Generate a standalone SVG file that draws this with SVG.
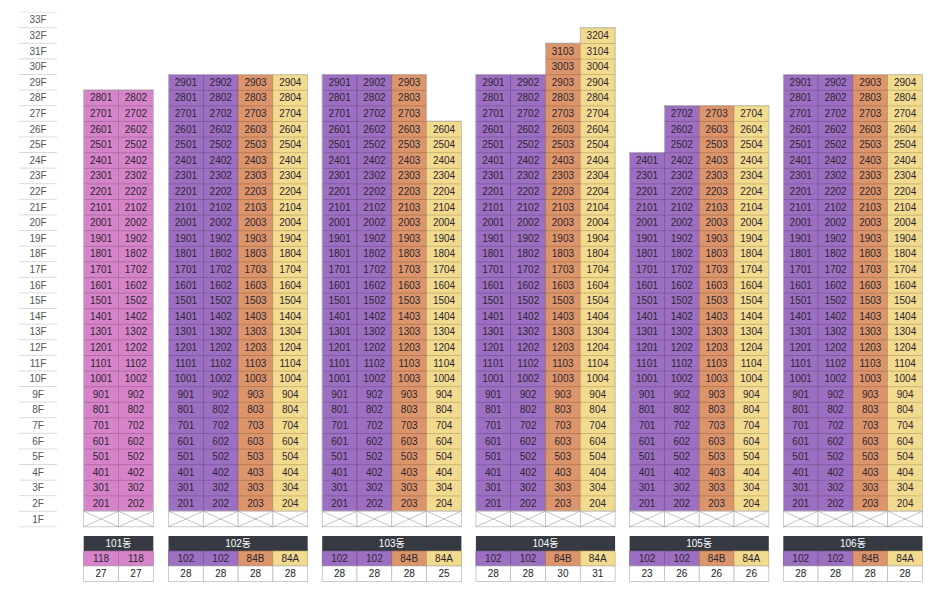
<svg xmlns="http://www.w3.org/2000/svg" xmlns:xlink="http://www.w3.org/1999/xlink" width="943" height="595" viewBox="0 0 943 595">
<defs>
<style>
.pk{fill:#d783c9;stroke:#9c6a93;stroke-width:.6}
.pu{fill:#9d6fc2;stroke:#6f4f8c;stroke-width:.6}
.or{fill:#dc956a;stroke:#a06a4c;stroke-width:.6}
.ye{fill:#f2db8e;stroke:#b7a266;stroke-width:.6}
.hl{fill:url(#hl)}
.n text{font-family:"Liberation Sans",sans-serif;font-size:10px;fill:#2c2631;text-anchor:middle}
.f text{font-family:"Liberation Sans",sans-serif;font-size:10px;fill:#555;text-anchor:middle}
.hd{fill:#373a42}
.ht{font-family:"Liberation Sans","Noto Sans CJK KR",sans-serif;font-size:10px;fill:#fff;text-anchor:middle}
.tt{font-family:"Liberation Sans",sans-serif;font-size:10px;fill:#2c2631;text-anchor:middle}
.ct{font-family:"Liberation Sans",sans-serif;font-size:10px;fill:#222;text-anchor:middle}
.wc{fill:#fff;stroke:#b5b5b5;stroke-width:.7}
.ol{fill:none;stroke:#c8c8c8;stroke-width:.8}
</style>
<pattern id="hl" patternUnits="userSpaceOnUse" x="0" y="11.8" width="10" height="15.6"><rect x="0" y="0" width="10" height="0.6" fill="#000" fill-opacity=".28"/></pattern>
<pattern id="fl" patternUnits="userSpaceOnUse" x="0" y="11.6" width="10" height="15.6"><rect x="0" y="0" width="10" height="0.8" fill="#d2d2d2"/></pattern>
<g id="xc"><rect class="wc" x="0" y="0" width="34.8" height="15.6"/><path d="M0 0L34.8 15.6M0 15.6L34.8 0" stroke="#9a9a9a" stroke-width=".6" fill="none"/></g>
</defs>
<rect width="943" height="595" fill="#fff"/>

<g id="floors" class="f">
<rect x="19" y="11.6" width="38" height="516" fill="url(#fl)"/>
<g transform="translate(38,0)">
<text y="23.4">33F</text><text y="39">32F</text><text y="54.6">31F</text><text y="70.2">30F</text><text y="85.8">29F</text><text y="101.4">28F</text><text y="117">27F</text><text y="132.6">26F</text><text y="148.2">25F</text><text y="163.8">24F</text><text y="179.4">23F</text><text y="195">22F</text><text y="210.6">21F</text><text y="226.2">20F</text><text y="241.8">19F</text><text y="257.4">18F</text><text y="273">17F</text><text y="288.6">16F</text><text y="304.2">15F</text><text y="319.8">14F</text><text y="335.4">13F</text><text y="351">12F</text><text y="366.6">11F</text><text y="382.2">10F</text><text y="397.8">9F</text><text y="413.4">8F</text><text y="429">7F</text><text y="444.6">6F</text><text y="460.2">5F</text><text y="475.8">4F</text><text y="491.4">3F</text><text y="507">2F</text><text y="522.6">1F</text>
</g>
</g>

<!-- 101 -->
<g id="b101" transform="translate(83.7,0)">
<rect class="pk" x="0" y="90" width="34.8" height="421.2"/><rect class="hl" x="0" y="90" width="34.8" height="421.2"/>
<rect class="pk" x="34.8" y="90" width="34.8" height="421.2"/><rect class="hl" x="34.8" y="90" width="34.8" height="421.2"/>
<rect class="ol" x="0" y="90" width="69.6" height="421.2"/>
<use xlink:href="#xc" x="0" y="511.2"/><use xlink:href="#xc" x="34.8" y="511.2"/>
<g class="n">
<g transform="translate(17.4,0)"><text y="101.4">2801</text><text y="117">2701</text><text y="132.6">2601</text><text y="148.2">2501</text><text y="163.8">2401</text><text y="179.4">2301</text><text y="195">2201</text><text y="210.6">2101</text><text y="226.2">2001</text><text y="241.8">1901</text><text y="257.4">1801</text><text y="273">1701</text><text y="288.6">1601</text><text y="304.2">1501</text><text y="319.8">1401</text><text y="335.4">1301</text><text y="351">1201</text><text y="366.6">1101</text><text y="382.2">1001</text><text y="397.8">901</text><text y="413.4">801</text><text y="429">701</text><text y="444.6">601</text><text y="460.2">501</text><text y="475.8">401</text><text y="491.4">301</text><text y="507">201</text></g>
<g transform="translate(52.2,0)"><text y="101.4">2802</text><text y="117">2702</text><text y="132.6">2602</text><text y="148.2">2502</text><text y="163.8">2402</text><text y="179.4">2302</text><text y="195">2202</text><text y="210.6">2102</text><text y="226.2">2002</text><text y="241.8">1902</text><text y="257.4">1802</text><text y="273">1702</text><text y="288.6">1602</text><text y="304.2">1502</text><text y="319.8">1402</text><text y="335.4">1302</text><text y="351">1202</text><text y="366.6">1102</text><text y="382.2">1002</text><text y="397.8">902</text><text y="413.4">802</text><text y="429">702</text><text y="444.6">602</text><text y="460.2">502</text><text y="475.8">402</text><text y="491.4">302</text><text y="507">202</text></g>
</g>
<rect class="hd" x="0" y="536" width="69.6" height="15"/>
<text class="ht" x="34.8" y="547">101동</text>
<rect class="pk" x="0" y="551" width="34.8" height="15"/><rect class="pk" x="34.8" y="551" width="34.8" height="15"/>
<rect class="wc" x="0" y="566" width="34.8" height="15.5"/><rect class="wc" x="34.8" y="566" width="34.8" height="15.5"/>
<text class="tt" x="17.4" y="562">118</text><text class="tt" x="52.2" y="562">118</text>
<text class="ct" x="17.4" y="577.4">27</text><text class="ct" x="52.2" y="577.4">27</text>
</g>

<!-- 102 -->
<g id="b102" transform="translate(168.5,0)">
<rect class="pu" x="0" y="74.4" width="34.8" height="436.8"/><rect class="hl" x="0" y="74.4" width="34.8" height="436.8"/>
<rect class="pu" x="34.8" y="74.4" width="34.8" height="436.8"/><rect class="hl" x="34.8" y="74.4" width="34.8" height="436.8"/>
<rect class="or" x="69.6" y="74.4" width="34.8" height="436.8"/><rect class="hl" x="69.6" y="74.4" width="34.8" height="436.8"/>
<rect class="ye" x="104.4" y="74.4" width="34.8" height="436.8"/><rect class="hl" x="104.4" y="74.4" width="34.8" height="436.8"/>
<rect class="ol" x="0" y="74.4" width="139.2" height="436.8"/>
<use xlink:href="#xc" x="0" y="511.2"/><use xlink:href="#xc" x="34.8" y="511.2"/><use xlink:href="#xc" x="69.6" y="511.2"/><use xlink:href="#xc" x="104.4" y="511.2"/>
<g class="n">
<g transform="translate(17.4,0)"><text y="85.8">2901</text><text y="101.4">2801</text><text y="117">2701</text><text y="132.6">2601</text><text y="148.2">2501</text><text y="163.8">2401</text><text y="179.4">2301</text><text y="195">2201</text><text y="210.6">2101</text><text y="226.2">2001</text><text y="241.8">1901</text><text y="257.4">1801</text><text y="273">1701</text><text y="288.6">1601</text><text y="304.2">1501</text><text y="319.8">1401</text><text y="335.4">1301</text><text y="351">1201</text><text y="366.6">1101</text><text y="382.2">1001</text><text y="397.8">901</text><text y="413.4">801</text><text y="429">701</text><text y="444.6">601</text><text y="460.2">501</text><text y="475.8">401</text><text y="491.4">301</text><text y="507">201</text></g>
<g transform="translate(52.2,0)"><text y="85.8">2902</text><text y="101.4">2802</text><text y="117">2702</text><text y="132.6">2602</text><text y="148.2">2502</text><text y="163.8">2402</text><text y="179.4">2302</text><text y="195">2202</text><text y="210.6">2102</text><text y="226.2">2002</text><text y="241.8">1902</text><text y="257.4">1802</text><text y="273">1702</text><text y="288.6">1602</text><text y="304.2">1502</text><text y="319.8">1402</text><text y="335.4">1302</text><text y="351">1202</text><text y="366.6">1102</text><text y="382.2">1002</text><text y="397.8">902</text><text y="413.4">802</text><text y="429">702</text><text y="444.6">602</text><text y="460.2">502</text><text y="475.8">402</text><text y="491.4">302</text><text y="507">202</text></g>
<g transform="translate(87,0)"><text y="85.8">2903</text><text y="101.4">2803</text><text y="117">2703</text><text y="132.6">2603</text><text y="148.2">2503</text><text y="163.8">2403</text><text y="179.4">2303</text><text y="195">2203</text><text y="210.6">2103</text><text y="226.2">2003</text><text y="241.8">1903</text><text y="257.4">1803</text><text y="273">1703</text><text y="288.6">1603</text><text y="304.2">1503</text><text y="319.8">1403</text><text y="335.4">1303</text><text y="351">1203</text><text y="366.6">1103</text><text y="382.2">1003</text><text y="397.8">903</text><text y="413.4">803</text><text y="429">703</text><text y="444.6">603</text><text y="460.2">503</text><text y="475.8">403</text><text y="491.4">303</text><text y="507">203</text></g>
<g transform="translate(121.8,0)"><text y="85.8">2904</text><text y="101.4">2804</text><text y="117">2704</text><text y="132.6">2604</text><text y="148.2">2504</text><text y="163.8">2404</text><text y="179.4">2304</text><text y="195">2204</text><text y="210.6">2104</text><text y="226.2">2004</text><text y="241.8">1904</text><text y="257.4">1804</text><text y="273">1704</text><text y="288.6">1604</text><text y="304.2">1504</text><text y="319.8">1404</text><text y="335.4">1304</text><text y="351">1204</text><text y="366.6">1104</text><text y="382.2">1004</text><text y="397.8">904</text><text y="413.4">804</text><text y="429">704</text><text y="444.6">604</text><text y="460.2">504</text><text y="475.8">404</text><text y="491.4">304</text><text y="507">204</text></g>
</g>
<rect class="hd" x="0" y="536" width="139.2" height="15"/>
<text class="ht" x="69.6" y="547">102동</text>
<rect class="pu" x="0" y="551" width="34.8" height="15"/><rect class="pu" x="34.8" y="551" width="34.8" height="15"/><rect class="or" x="69.6" y="551" width="34.8" height="15"/><rect class="ye" x="104.4" y="551" width="34.8" height="15"/>
<rect class="wc" x="0" y="566" width="34.8" height="15.5"/><rect class="wc" x="34.8" y="566" width="34.8" height="15.5"/><rect class="wc" x="69.6" y="566" width="34.8" height="15.5"/><rect class="wc" x="104.4" y="566" width="34.8" height="15.5"/>
<text class="tt" x="17.4" y="562">102</text><text class="tt" x="52.2" y="562">102</text><text class="tt" x="87" y="562">84B</text><text class="tt" x="121.8" y="562">84A</text>
<text class="ct" x="17.4" y="577.4">28</text><text class="ct" x="52.2" y="577.4">28</text><text class="ct" x="87" y="577.4">28</text><text class="ct" x="121.8" y="577.4">28</text>
</g>

<!-- 103 -->
<g id="b103" transform="translate(322.2,0)">
<rect class="pu" x="0" y="74.4" width="34.8" height="436.8"/><rect class="hl" x="0" y="74.4" width="34.8" height="436.8"/>
<rect class="pu" x="34.8" y="74.4" width="34.8" height="436.8"/><rect class="hl" x="34.8" y="74.4" width="34.8" height="436.8"/>
<rect class="or" x="69.6" y="74.4" width="34.8" height="436.8"/><rect class="hl" x="69.6" y="74.4" width="34.8" height="436.8"/>
<rect class="ye" x="104.4" y="121.2" width="34.8" height="390"/><rect class="hl" x="104.4" y="121.2" width="34.8" height="390"/>
<path class="ol" d="M0 511.2V74.4H104.4V121.2H139.2V511.2Z"/>
<use xlink:href="#xc" x="0" y="511.2"/><use xlink:href="#xc" x="34.8" y="511.2"/><use xlink:href="#xc" x="69.6" y="511.2"/><use xlink:href="#xc" x="104.4" y="511.2"/>
<g class="n">
<g transform="translate(17.4,0)"><text y="85.8">2901</text><text y="101.4">2801</text><text y="117">2701</text><text y="132.6">2601</text><text y="148.2">2501</text><text y="163.8">2401</text><text y="179.4">2301</text><text y="195">2201</text><text y="210.6">2101</text><text y="226.2">2001</text><text y="241.8">1901</text><text y="257.4">1801</text><text y="273">1701</text><text y="288.6">1601</text><text y="304.2">1501</text><text y="319.8">1401</text><text y="335.4">1301</text><text y="351">1201</text><text y="366.6">1101</text><text y="382.2">1001</text><text y="397.8">901</text><text y="413.4">801</text><text y="429">701</text><text y="444.6">601</text><text y="460.2">501</text><text y="475.8">401</text><text y="491.4">301</text><text y="507">201</text></g>
<g transform="translate(52.2,0)"><text y="85.8">2902</text><text y="101.4">2802</text><text y="117">2702</text><text y="132.6">2602</text><text y="148.2">2502</text><text y="163.8">2402</text><text y="179.4">2302</text><text y="195">2202</text><text y="210.6">2102</text><text y="226.2">2002</text><text y="241.8">1902</text><text y="257.4">1802</text><text y="273">1702</text><text y="288.6">1602</text><text y="304.2">1502</text><text y="319.8">1402</text><text y="335.4">1302</text><text y="351">1202</text><text y="366.6">1102</text><text y="382.2">1002</text><text y="397.8">902</text><text y="413.4">802</text><text y="429">702</text><text y="444.6">602</text><text y="460.2">502</text><text y="475.8">402</text><text y="491.4">302</text><text y="507">202</text></g>
<g transform="translate(87,0)"><text y="85.8">2903</text><text y="101.4">2803</text><text y="117">2703</text><text y="132.6">2603</text><text y="148.2">2503</text><text y="163.8">2403</text><text y="179.4">2303</text><text y="195">2203</text><text y="210.6">2103</text><text y="226.2">2003</text><text y="241.8">1903</text><text y="257.4">1803</text><text y="273">1703</text><text y="288.6">1603</text><text y="304.2">1503</text><text y="319.8">1403</text><text y="335.4">1303</text><text y="351">1203</text><text y="366.6">1103</text><text y="382.2">1003</text><text y="397.8">903</text><text y="413.4">803</text><text y="429">703</text><text y="444.6">603</text><text y="460.2">503</text><text y="475.8">403</text><text y="491.4">303</text><text y="507">203</text></g>
<g transform="translate(121.8,0)"><text y="132.6">2604</text><text y="148.2">2504</text><text y="163.8">2404</text><text y="179.4">2304</text><text y="195">2204</text><text y="210.6">2104</text><text y="226.2">2004</text><text y="241.8">1904</text><text y="257.4">1804</text><text y="273">1704</text><text y="288.6">1604</text><text y="304.2">1504</text><text y="319.8">1404</text><text y="335.4">1304</text><text y="351">1204</text><text y="366.6">1104</text><text y="382.2">1004</text><text y="397.8">904</text><text y="413.4">804</text><text y="429">704</text><text y="444.6">604</text><text y="460.2">504</text><text y="475.8">404</text><text y="491.4">304</text><text y="507">204</text></g>
</g>
<rect class="hd" x="0" y="536" width="139.2" height="15"/>
<text class="ht" x="69.6" y="547">103동</text>
<rect class="pu" x="0" y="551" width="34.8" height="15"/><rect class="pu" x="34.8" y="551" width="34.8" height="15"/><rect class="or" x="69.6" y="551" width="34.8" height="15"/><rect class="ye" x="104.4" y="551" width="34.8" height="15"/>
<rect class="wc" x="0" y="566" width="34.8" height="15.5"/><rect class="wc" x="34.8" y="566" width="34.8" height="15.5"/><rect class="wc" x="69.6" y="566" width="34.8" height="15.5"/><rect class="wc" x="104.4" y="566" width="34.8" height="15.5"/>
<text class="tt" x="17.4" y="562">102</text><text class="tt" x="52.2" y="562">102</text><text class="tt" x="87" y="562">84B</text><text class="tt" x="121.8" y="562">84A</text>
<text class="ct" x="17.4" y="577.4">28</text><text class="ct" x="52.2" y="577.4">28</text><text class="ct" x="87" y="577.4">28</text><text class="ct" x="121.8" y="577.4">25</text>
</g>

<!-- 104 -->
<g id="b104" transform="translate(475.9,0)">
<rect class="pu" x="0" y="74.4" width="34.8" height="436.8"/><rect class="hl" x="0" y="74.4" width="34.8" height="436.8"/>
<rect class="pu" x="34.8" y="74.4" width="34.8" height="436.8"/><rect class="hl" x="34.8" y="74.4" width="34.8" height="436.8"/>
<rect class="or" x="69.6" y="43.2" width="34.8" height="468"/><rect class="hl" x="69.6" y="43.2" width="34.8" height="468"/>
<rect class="ye" x="104.4" y="27.6" width="34.8" height="483.6"/><rect class="hl" x="104.4" y="27.6" width="34.8" height="483.6"/>
<path class="ol" d="M0 511.2V74.4H69.6V43.2H104.4V27.6H139.2V511.2Z"/>
<use xlink:href="#xc" x="0" y="511.2"/><use xlink:href="#xc" x="34.8" y="511.2"/><use xlink:href="#xc" x="69.6" y="511.2"/><use xlink:href="#xc" x="104.4" y="511.2"/>
<g class="n">
<g transform="translate(17.4,0)"><text y="85.8">2901</text><text y="101.4">2801</text><text y="117">2701</text><text y="132.6">2601</text><text y="148.2">2501</text><text y="163.8">2401</text><text y="179.4">2301</text><text y="195">2201</text><text y="210.6">2101</text><text y="226.2">2001</text><text y="241.8">1901</text><text y="257.4">1801</text><text y="273">1701</text><text y="288.6">1601</text><text y="304.2">1501</text><text y="319.8">1401</text><text y="335.4">1301</text><text y="351">1201</text><text y="366.6">1101</text><text y="382.2">1001</text><text y="397.8">901</text><text y="413.4">801</text><text y="429">701</text><text y="444.6">601</text><text y="460.2">501</text><text y="475.8">401</text><text y="491.4">301</text><text y="507">201</text></g>
<g transform="translate(52.2,0)"><text y="85.8">2902</text><text y="101.4">2802</text><text y="117">2702</text><text y="132.6">2602</text><text y="148.2">2502</text><text y="163.8">2402</text><text y="179.4">2302</text><text y="195">2202</text><text y="210.6">2102</text><text y="226.2">2002</text><text y="241.8">1902</text><text y="257.4">1802</text><text y="273">1702</text><text y="288.6">1602</text><text y="304.2">1502</text><text y="319.8">1402</text><text y="335.4">1302</text><text y="351">1202</text><text y="366.6">1102</text><text y="382.2">1002</text><text y="397.8">902</text><text y="413.4">802</text><text y="429">702</text><text y="444.6">602</text><text y="460.2">502</text><text y="475.8">402</text><text y="491.4">302</text><text y="507">202</text></g>
<g transform="translate(87,0)"><text y="54.6">3103</text><text y="70.2">3003</text><text y="85.8">2903</text><text y="101.4">2803</text><text y="117">2703</text><text y="132.6">2603</text><text y="148.2">2503</text><text y="163.8">2403</text><text y="179.4">2303</text><text y="195">2203</text><text y="210.6">2103</text><text y="226.2">2003</text><text y="241.8">1903</text><text y="257.4">1803</text><text y="273">1703</text><text y="288.6">1603</text><text y="304.2">1503</text><text y="319.8">1403</text><text y="335.4">1303</text><text y="351">1203</text><text y="366.6">1103</text><text y="382.2">1003</text><text y="397.8">903</text><text y="413.4">803</text><text y="429">703</text><text y="444.6">603</text><text y="460.2">503</text><text y="475.8">403</text><text y="491.4">303</text><text y="507">203</text></g>
<g transform="translate(121.8,0)"><text y="39">3204</text><text y="54.6">3104</text><text y="70.2">3004</text><text y="85.8">2904</text><text y="101.4">2804</text><text y="117">2704</text><text y="132.6">2604</text><text y="148.2">2504</text><text y="163.8">2404</text><text y="179.4">2304</text><text y="195">2204</text><text y="210.6">2104</text><text y="226.2">2004</text><text y="241.8">1904</text><text y="257.4">1804</text><text y="273">1704</text><text y="288.6">1604</text><text y="304.2">1504</text><text y="319.8">1404</text><text y="335.4">1304</text><text y="351">1204</text><text y="366.6">1104</text><text y="382.2">1004</text><text y="397.8">904</text><text y="413.4">804</text><text y="429">704</text><text y="444.6">604</text><text y="460.2">504</text><text y="475.8">404</text><text y="491.4">304</text><text y="507">204</text></g>
</g>
<rect class="hd" x="0" y="536" width="139.2" height="15"/>
<text class="ht" x="69.6" y="547">104동</text>
<rect class="pu" x="0" y="551" width="34.8" height="15"/><rect class="pu" x="34.8" y="551" width="34.8" height="15"/><rect class="or" x="69.6" y="551" width="34.8" height="15"/><rect class="ye" x="104.4" y="551" width="34.8" height="15"/>
<rect class="wc" x="0" y="566" width="34.8" height="15.5"/><rect class="wc" x="34.8" y="566" width="34.8" height="15.5"/><rect class="wc" x="69.6" y="566" width="34.8" height="15.5"/><rect class="wc" x="104.4" y="566" width="34.8" height="15.5"/>
<text class="tt" x="17.4" y="562">102</text><text class="tt" x="52.2" y="562">102</text><text class="tt" x="87" y="562">84B</text><text class="tt" x="121.8" y="562">84A</text>
<text class="ct" x="17.4" y="577.4">28</text><text class="ct" x="52.2" y="577.4">28</text><text class="ct" x="87" y="577.4">30</text><text class="ct" x="121.8" y="577.4">31</text>
</g>

<!-- 105 -->
<g id="b105" transform="translate(629.6,0)">
<rect class="pu" x="0" y="152.4" width="34.8" height="358.8"/><rect class="hl" x="0" y="152.4" width="34.8" height="358.8"/>
<rect class="pu" x="34.8" y="105.6" width="34.8" height="405.6"/><rect class="hl" x="34.8" y="105.6" width="34.8" height="405.6"/>
<rect class="or" x="69.6" y="105.6" width="34.8" height="405.6"/><rect class="hl" x="69.6" y="105.6" width="34.8" height="405.6"/>
<rect class="ye" x="104.4" y="105.6" width="34.8" height="405.6"/><rect class="hl" x="104.4" y="105.6" width="34.8" height="405.6"/>
<path class="ol" d="M0 511.2V152.4H34.8V105.6H139.2V511.2Z"/>
<use xlink:href="#xc" x="0" y="511.2"/><use xlink:href="#xc" x="34.8" y="511.2"/><use xlink:href="#xc" x="69.6" y="511.2"/><use xlink:href="#xc" x="104.4" y="511.2"/>
<g class="n">
<g transform="translate(17.4,0)"><text y="163.8">2401</text><text y="179.4">2301</text><text y="195">2201</text><text y="210.6">2101</text><text y="226.2">2001</text><text y="241.8">1901</text><text y="257.4">1801</text><text y="273">1701</text><text y="288.6">1601</text><text y="304.2">1501</text><text y="319.8">1401</text><text y="335.4">1301</text><text y="351">1201</text><text y="366.6">1101</text><text y="382.2">1001</text><text y="397.8">901</text><text y="413.4">801</text><text y="429">701</text><text y="444.6">601</text><text y="460.2">501</text><text y="475.8">401</text><text y="491.4">301</text><text y="507">201</text></g>
<g transform="translate(52.2,0)"><text y="117">2702</text><text y="132.6">2602</text><text y="148.2">2502</text><text y="163.8">2402</text><text y="179.4">2302</text><text y="195">2202</text><text y="210.6">2102</text><text y="226.2">2002</text><text y="241.8">1902</text><text y="257.4">1802</text><text y="273">1702</text><text y="288.6">1602</text><text y="304.2">1502</text><text y="319.8">1402</text><text y="335.4">1302</text><text y="351">1202</text><text y="366.6">1102</text><text y="382.2">1002</text><text y="397.8">902</text><text y="413.4">802</text><text y="429">702</text><text y="444.6">602</text><text y="460.2">502</text><text y="475.8">402</text><text y="491.4">302</text><text y="507">202</text></g>
<g transform="translate(87,0)"><text y="117">2703</text><text y="132.6">2603</text><text y="148.2">2503</text><text y="163.8">2403</text><text y="179.4">2303</text><text y="195">2203</text><text y="210.6">2103</text><text y="226.2">2003</text><text y="241.8">1903</text><text y="257.4">1803</text><text y="273">1703</text><text y="288.6">1603</text><text y="304.2">1503</text><text y="319.8">1403</text><text y="335.4">1303</text><text y="351">1203</text><text y="366.6">1103</text><text y="382.2">1003</text><text y="397.8">903</text><text y="413.4">803</text><text y="429">703</text><text y="444.6">603</text><text y="460.2">503</text><text y="475.8">403</text><text y="491.4">303</text><text y="507">203</text></g>
<g transform="translate(121.8,0)"><text y="117">2704</text><text y="132.6">2604</text><text y="148.2">2504</text><text y="163.8">2404</text><text y="179.4">2304</text><text y="195">2204</text><text y="210.6">2104</text><text y="226.2">2004</text><text y="241.8">1904</text><text y="257.4">1804</text><text y="273">1704</text><text y="288.6">1604</text><text y="304.2">1504</text><text y="319.8">1404</text><text y="335.4">1304</text><text y="351">1204</text><text y="366.6">1104</text><text y="382.2">1004</text><text y="397.8">904</text><text y="413.4">804</text><text y="429">704</text><text y="444.6">604</text><text y="460.2">504</text><text y="475.8">404</text><text y="491.4">304</text><text y="507">204</text></g>
</g>
<rect class="hd" x="0" y="536" width="139.2" height="15"/>
<text class="ht" x="69.6" y="547">105동</text>
<rect class="pu" x="0" y="551" width="34.8" height="15"/><rect class="pu" x="34.8" y="551" width="34.8" height="15"/><rect class="or" x="69.6" y="551" width="34.8" height="15"/><rect class="ye" x="104.4" y="551" width="34.8" height="15"/>
<rect class="wc" x="0" y="566" width="34.8" height="15.5"/><rect class="wc" x="34.8" y="566" width="34.8" height="15.5"/><rect class="wc" x="69.6" y="566" width="34.8" height="15.5"/><rect class="wc" x="104.4" y="566" width="34.8" height="15.5"/>
<text class="tt" x="17.4" y="562">102</text><text class="tt" x="52.2" y="562">102</text><text class="tt" x="87" y="562">84B</text><text class="tt" x="121.8" y="562">84A</text>
<text class="ct" x="17.4" y="577.4">23</text><text class="ct" x="52.2" y="577.4">26</text><text class="ct" x="87" y="577.4">26</text><text class="ct" x="121.8" y="577.4">26</text>
</g>

<!-- 106 -->
<g id="b106" transform="translate(783.3,0)">
<rect class="pu" x="0" y="74.4" width="34.8" height="436.8"/><rect class="hl" x="0" y="74.4" width="34.8" height="436.8"/>
<rect class="pu" x="34.8" y="74.4" width="34.8" height="436.8"/><rect class="hl" x="34.8" y="74.4" width="34.8" height="436.8"/>
<rect class="or" x="69.6" y="74.4" width="34.8" height="436.8"/><rect class="hl" x="69.6" y="74.4" width="34.8" height="436.8"/>
<rect class="ye" x="104.4" y="74.4" width="34.8" height="436.8"/><rect class="hl" x="104.4" y="74.4" width="34.8" height="436.8"/>
<rect class="ol" x="0" y="74.4" width="139.2" height="436.8"/>
<use xlink:href="#xc" x="0" y="511.2"/><use xlink:href="#xc" x="34.8" y="511.2"/><use xlink:href="#xc" x="69.6" y="511.2"/><use xlink:href="#xc" x="104.4" y="511.2"/>
<g class="n">
<g transform="translate(17.4,0)"><text y="85.8">2901</text><text y="101.4">2801</text><text y="117">2701</text><text y="132.6">2601</text><text y="148.2">2501</text><text y="163.8">2401</text><text y="179.4">2301</text><text y="195">2201</text><text y="210.6">2101</text><text y="226.2">2001</text><text y="241.8">1901</text><text y="257.4">1801</text><text y="273">1701</text><text y="288.6">1601</text><text y="304.2">1501</text><text y="319.8">1401</text><text y="335.4">1301</text><text y="351">1201</text><text y="366.6">1101</text><text y="382.2">1001</text><text y="397.8">901</text><text y="413.4">801</text><text y="429">701</text><text y="444.6">601</text><text y="460.2">501</text><text y="475.8">401</text><text y="491.4">301</text><text y="507">201</text></g>
<g transform="translate(52.2,0)"><text y="85.8">2902</text><text y="101.4">2802</text><text y="117">2702</text><text y="132.6">2602</text><text y="148.2">2502</text><text y="163.8">2402</text><text y="179.4">2302</text><text y="195">2202</text><text y="210.6">2102</text><text y="226.2">2002</text><text y="241.8">1902</text><text y="257.4">1802</text><text y="273">1702</text><text y="288.6">1602</text><text y="304.2">1502</text><text y="319.8">1402</text><text y="335.4">1302</text><text y="351">1202</text><text y="366.6">1102</text><text y="382.2">1002</text><text y="397.8">902</text><text y="413.4">802</text><text y="429">702</text><text y="444.6">602</text><text y="460.2">502</text><text y="475.8">402</text><text y="491.4">302</text><text y="507">202</text></g>
<g transform="translate(87,0)"><text y="85.8">2903</text><text y="101.4">2803</text><text y="117">2703</text><text y="132.6">2603</text><text y="148.2">2503</text><text y="163.8">2403</text><text y="179.4">2303</text><text y="195">2203</text><text y="210.6">2103</text><text y="226.2">2003</text><text y="241.8">1903</text><text y="257.4">1803</text><text y="273">1703</text><text y="288.6">1603</text><text y="304.2">1503</text><text y="319.8">1403</text><text y="335.4">1303</text><text y="351">1203</text><text y="366.6">1103</text><text y="382.2">1003</text><text y="397.8">903</text><text y="413.4">803</text><text y="429">703</text><text y="444.6">603</text><text y="460.2">503</text><text y="475.8">403</text><text y="491.4">303</text><text y="507">203</text></g>
<g transform="translate(121.8,0)"><text y="85.8">2904</text><text y="101.4">2804</text><text y="117">2704</text><text y="132.6">2604</text><text y="148.2">2504</text><text y="163.8">2404</text><text y="179.4">2304</text><text y="195">2204</text><text y="210.6">2104</text><text y="226.2">2004</text><text y="241.8">1904</text><text y="257.4">1804</text><text y="273">1704</text><text y="288.6">1604</text><text y="304.2">1504</text><text y="319.8">1404</text><text y="335.4">1304</text><text y="351">1204</text><text y="366.6">1104</text><text y="382.2">1004</text><text y="397.8">904</text><text y="413.4">804</text><text y="429">704</text><text y="444.6">604</text><text y="460.2">504</text><text y="475.8">404</text><text y="491.4">304</text><text y="507">204</text></g>
</g>
<rect class="hd" x="0" y="536" width="139.2" height="15"/>
<text class="ht" x="69.6" y="547">106동</text>
<rect class="pu" x="0" y="551" width="34.8" height="15"/><rect class="pu" x="34.8" y="551" width="34.8" height="15"/><rect class="or" x="69.6" y="551" width="34.8" height="15"/><rect class="ye" x="104.4" y="551" width="34.8" height="15"/>
<rect class="wc" x="0" y="566" width="34.8" height="15.5"/><rect class="wc" x="34.8" y="566" width="34.8" height="15.5"/><rect class="wc" x="69.6" y="566" width="34.8" height="15.5"/><rect class="wc" x="104.4" y="566" width="34.8" height="15.5"/>
<text class="tt" x="17.4" y="562">102</text><text class="tt" x="52.2" y="562">102</text><text class="tt" x="87" y="562">84B</text><text class="tt" x="121.8" y="562">84A</text>
<text class="ct" x="17.4" y="577.4">28</text><text class="ct" x="52.2" y="577.4">28</text><text class="ct" x="87" y="577.4">28</text><text class="ct" x="121.8" y="577.4">28</text>
</g>
<g id="connectors"/>
</svg>
